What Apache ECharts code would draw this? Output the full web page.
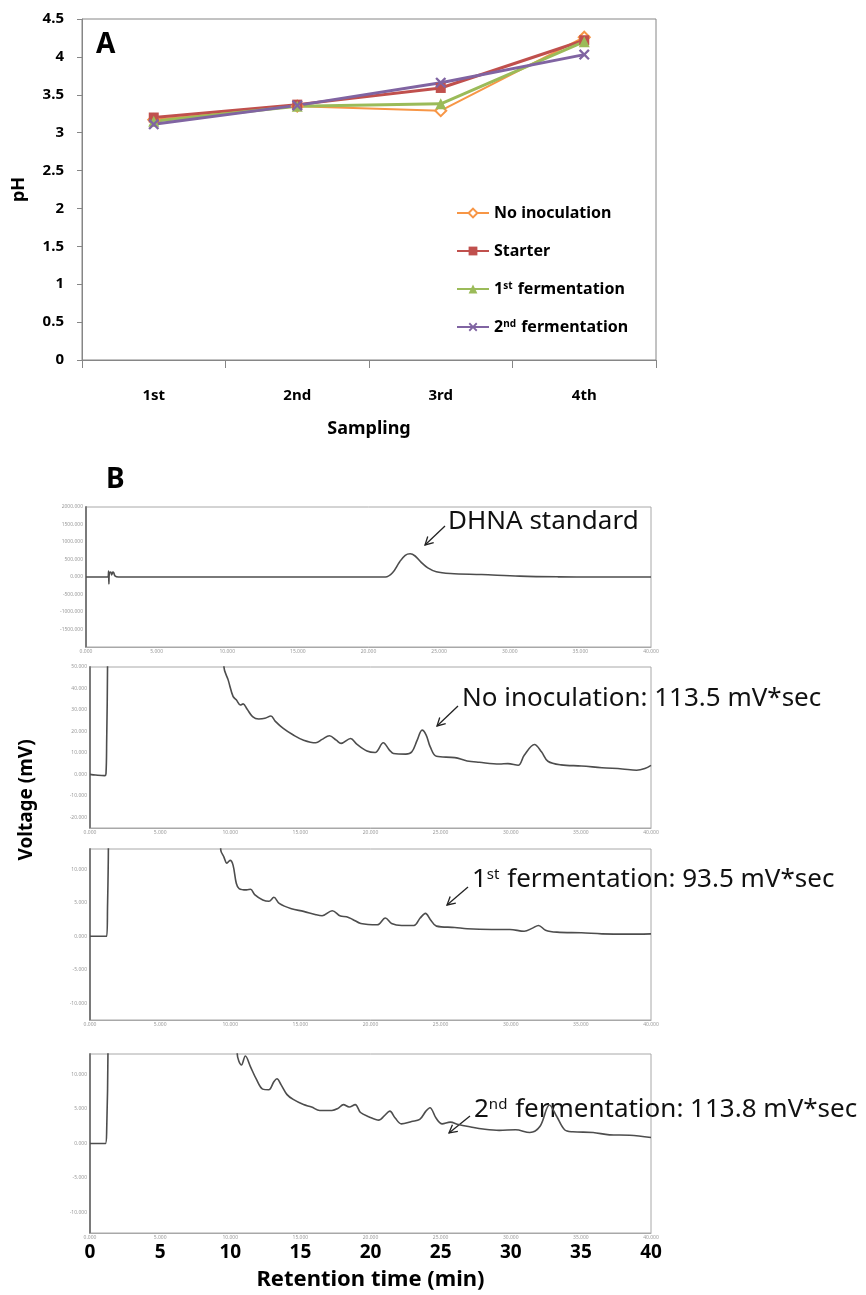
<!DOCTYPE html>
<html><head><meta charset="utf-8">
<script src="https://cdn.jsdelivr.net/npm/echarts@6/dist/echarts.min.js"></script>
<style>html,body{margin:0;padding:0;background:#fff}#c{width:866px;height:1295px}</style>
</head><body><div id="c"></div>
<script>
// ---- Panel A data ----
const samplings = ['1st', '2nd', '3rd', '4th'];
const phNoInoculation = [3.17, 3.35, 3.29, 4.26];
const phStarter = [3.20, 3.37, 3.59, 4.22];
const phFirstFerm = [3.15, 3.35, 3.38, 4.20];
const phSecondFerm = [3.11, 3.36, 3.66, 4.03];
const phTicks = [0, 0.5, 1, 1.5, 2, 2.5, 3, 3.5, 4, 4.5];

// ---- Panel B data: [retention time (min), signal] ----
const timeTicks = [0, 5, 10, 15, 20, 25, 30, 35, 40];
const dhnaStandard = [[0,0],[1.55,0],[1.6,170],[1.62,-200],[1.65,100],[1.75,140],[1.82,60],[1.9,140],[1.97,120],[2.05,30],[2.3,0],[4,0],[21.2,0],[21.7,120],[22.2,430],[22.6,620],[22.95,664],[23.3,600],[23.7,430],[24.2,260],[24.8,150],[25.8,100],[28,70],[30.7,25],[33.4,5],[36,0],[40,0]];
const noInoculationTrace = [[0,0],[0.4,-0.3],[1.05,-0.6],[1.14,0.3],[1.19,16],[1.25,50],[1.28,200],[9.35,200],[9.55,50],[9.85,44],[10.2,36.3],[10.43,34.7],[10.72,32.3],[10.92,32.8],[11.21,30.3],[11.59,26.9],[12.03,25.8],[12.47,26.1],[12.9,27.2],[13.2,24.8],[13.78,21.4],[14.5,18.3],[15.23,15.9],[16.1,14.7],[16.55,16.3],[17.07,18],[17.56,15.9],[17.9,14.4],[18.58,16.7],[19.02,14.1],[19.75,10.9],[20.33,10.2],[20.91,14.7],[21.35,11.3],[21.64,9.7],[22.52,9.4],[22.95,10.5],[23.33,15.9],[23.68,20.6],[23.97,18.3],[24.26,12.8],[24.7,8.4],[26.01,7.8],[26.89,6.25],[27.76,5.6],[29.2,4.8],[29.8,5],[30.53,4.2],[30.96,8.9],[31.69,13.9],[32.19,10.5],[32.65,6.1],[33.59,4.4],[35.04,3.9],[36.5,3.1],[37.95,2.5],[38.97,1.9],[39.56,2.7],[40,4.2]];
const firstFermTrace = [[0,0],[1.19,0],[1.25,4.4],[1.31,12.9],[1.33,40],[9.2,40],[9.32,12.9],[9.55,11.8],[9.76,10.9],[9.99,11.3],[10.2,10.6],[10.43,7.9],[10.63,7.1],[11.16,6.9],[11.45,7],[11.74,6.2],[12.32,5.4],[12.76,5.2],[13.11,5.8],[13.49,4.9],[14.36,4.1],[15.23,3.7],[16.11,3.2],[16.55,3.05],[17.27,3.8],[17.86,3],[18.29,2.9],[18.73,2.5],[19.31,1.9],[20.48,1.7],[21.06,2.7],[21.5,1.9],[22.22,1.6],[23.1,1.6],[23.54,2.7],[23.92,3.4],[24.26,2.5],[24.7,1.5],[26.01,1.3],[26.89,1.1],[28.63,1],[29.94,1],[30.96,0.74],[31.55,1.2],[31.98,1.6],[32.48,0.9],[33.29,0.6],[35.04,0.5],[36.5,0.35],[38.25,0.3],[40,0.35]];
const secondFermTrace = [[0,0],[1.1,0],[1.19,2],[1.28,13],[1.3,40],[10.45,40],[10.5,13],[10.8,11.4],[11.08,12.7],[11.43,11.2],[11.87,9.3],[12.31,7.9],[12.74,7.8],[13.12,9],[13.33,9.4],[13.62,8.55],[14.05,7.1],[14.49,6.4],[15.22,5.65],[15.8,5.3],[16.38,4.8],[17.25,4.8],[17.69,5.1],[18.07,5.65],[18.48,5.3],[18.91,5.65],[19.29,4.5],[19.87,3.9],[20.6,3.4],[20.98,4],[21.38,4.7],[21.76,3.7],[22.2,2.85],[22.93,3.2],[23.51,3.5],[23.95,4.7],[24.24,5.2],[24.67,3.7],[25.11,2.85],[25.69,3.1],[26.27,2.75],[27.15,2.4],[28.02,2.1],[29.18,1.9],[30.35,2],[31.36,1.6],[32.09,2.5],[32.76,5.6],[33.26,4],[33.84,2],[34.42,1.7],[35.87,1.6],[37.04,1.25],[38.49,1.2],[40,0.87]];
const dhnaTicks = [2000, 1500, 1000, 500, 0, -500, -1000, -1500];
const noInocTicks = [50, 40, 30, 20, 10, 0, -10, -20];
const fermTicks = [10, 5, 0, -5, -10];

const FONT = '"Noto Sans", "DejaVu Sans", sans-serif';
const chart = echarts.init(document.getElementById('c'));

const panelGrids = [
  {left: 82, top: 19, width: 574, height: 341},
  {left: 86, top: 507, width: 565, height: 140},
  {left: 90, top: 667, width: 561, height: 161},
  {left: 90, top: 849, width: 561, height: 171},
  {left: 90, top: 1054, width: 561, height: 179}
];
const grids = panelGrids.map((g, i) => Object.assign({show: true, backgroundColor: 'transparent',
  borderColor: i === 0 ? '#868686' : '#a8a8a8', borderWidth: 1}, g));

const tinyLabel = {fontSize: 5, color: '#9a9a9a', fontFamily: FONT};
function chromX(gi) {
  return {type: 'value', gridIndex: gi, min: 0, max: 40, interval: 5,
    axisLine: {show: true, onZero: false, lineStyle: {color: '#a8a8a8', width: 1}},
    axisTick: {show: false}, splitLine: {show: false},
    axisLabel: Object.assign({margin: 2, customValues: timeTicks, formatter: v => v.toFixed(3)}, tinyLabel)};
}
function chromY(gi, min, max, ticks) {
  return {type: 'value', gridIndex: gi, min: min, max: max,
    axisLine: {show: true, onZero: false, lineStyle: {color: '#7a7a7a', width: 2}},
    axisTick: {show: false}, splitLine: {show: false},
    axisLabel: Object.assign({margin: 3, showMinLabel: true, showMaxLabel: true, customValues: ticks, formatter: v => v.toFixed(3)}, tinyLabel)};
}

const xAxes = [
  {type: 'category', gridIndex: 0, data: samplings, boundaryGap: true,
   axisLine: {lineStyle: {color: '#868686', width: 1}},
   axisTick: {show: true, length: 8, inside: false, lineStyle: {color: '#868686'}},
   axisLabel: {fontSize: 15, fontWeight: 'bold', color: '#000', margin: 28, fontFamily: FONT},
   name: 'Sampling', nameLocation: 'middle', nameGap: 60,
   nameTextStyle: {fontSize: 18, fontWeight: 'bold', color: '#000', fontFamily: FONT}},
  chromX(1), chromX(2), chromX(3), chromX(4),
  {type: 'value', gridIndex: 4, min: 0, max: 40, interval: 5, position: 'bottom',
   axisLine: {show: false, onZero: false}, axisTick: {show: false}, splitLine: {show: false},
   axisLabel: {fontSize: 19, fontWeight: 'bold', color: '#000', margin: 10, fontFamily: FONT, customValues: timeTicks},
   name: 'Retention time (min)', nameLocation: 'middle', nameGap: 36,
   nameTextStyle: {fontSize: 22, fontWeight: 'bold', color: '#000', fontFamily: FONT}}
];
const yAxes = [
  {type: 'value', gridIndex: 0, min: 0, max: 4.5, interval: 0.5,
   axisLine: {show: true, lineStyle: {color: '#868686'}},
   axisTick: {show: true, length: 5, lineStyle: {color: '#868686'}},
   splitLine: {show: false},
   axisLabel: {fontSize: 15, fontWeight: 'bold', color: '#000', margin: 18, fontFamily: FONT,
     customValues: phTicks},
   name: 'pH', nameLocation: 'middle', nameGap: 54,
   nameTextStyle: {fontSize: 18, fontWeight: 'bold', color: '#000', fontFamily: FONT}},
  chromY(1, -2000, 2000, dhnaTicks),
  chromY(2, -25, 50, noInocTicks),
  chromY(3, -12.5, 13, fermTicks),
  chromY(4, -13, 13, fermTicks)
];

const crossPath = 'path://M0,1.5L1.5,0L5,3.5L8.5,0L10,1.5L6.5,5L10,8.5L8.5,10L5,6.5L1.5,10L0,8.5L3.5,5Z';
function phSeries(name, data, color, symbol, size, lw, hollow) {
  return {name: name, type: 'line', xAxisIndex: 0, yAxisIndex: 0, data: data,
    symbol: symbol, symbolSize: size, showSymbol: true,
    lineStyle: {color: color, width: lw},
    itemStyle: hollow ? {color: '#fff', borderColor: color, borderWidth: 2} : {color: color, borderWidth: 0},
    emphasis: {disabled: true}, z: 3};
}
const lineGray = '#4d4d4d';
function chromSeries(idx, data) {
  return {type: 'line', xAxisIndex: idx, yAxisIndex: idx, data: data, showSymbol: false,
    symbol: 'none', smooth: 0.35, clip: true,
    lineStyle: {color: lineGray, width: 1.6}, silent: true, z: 2};
}

function arrow(tx, ty, hx, hy) {
  const dx = tx - hx, dy = ty - hy, L = Math.hypot(dx, dy), ux = dx / L, uy = dy / L, a = 0.5, hl = 9;
  const r = (ang) => [hx + hl * (ux * Math.cos(ang) - uy * Math.sin(ang)), hy + hl * (ux * Math.sin(ang) + uy * Math.cos(ang))];
  return [
    {type: 'line', shape: {x1: tx, y1: ty, x2: hx, y2: hy}, style: {stroke: '#222', lineWidth: 1.3}},
    {type: 'polyline', shape: {points: [r(a), [hx, hy], r(-a)]}, style: {stroke: '#222', lineWidth: 1.3, fill: null}}
  ];
}
const annRich = {sup: {fontSize: 15, verticalAlign: 'top', fontFamily: FONT, fill: '#111', padding: [0, 1, 10, 0]},
  n: {fontSize: 26, fontFamily: FONT, fill: '#111'}};
function note(x, y, txt) {
  return {type: 'text', x: x, y: y, style: {text: txt, fontSize: 26, fontFamily: FONT, fill: '#111',
    verticalAlign: 'middle', align: 'left', rich: annRich}};
}

const graphics = [
  {type: 'text', x: 96, y: 45, style: {text: 'A', fontSize: 28, fontWeight: 'bold', fontFamily: FONT, fill: '#000', verticalAlign: 'middle'}},
  {type: 'text', x: 106, y: 480, style: {text: 'B', fontSize: 28, fontWeight: 'bold', fontFamily: FONT, fill: '#000', verticalAlign: 'middle'}},
  {type: 'text', x: 27, y: 800, rotation: Math.PI / 2, style: {text: 'Voltage (mV)', fontSize: 19, fontWeight: 'bold', fontFamily: FONT, fill: '#000', align: 'center', verticalAlign: 'middle'}},
  note(448, 522, '{n|DHNA standard}'),
  note(462, 699, '{n|No inoculation: 113.5 mV*sec}'),
  note(472, 880, '{n|1}{sup|st}{n| fermentation: 93.5 mV*sec}'),
  note(474, 1110, '{n|2}{sup|nd}{n| fermentation: 113.8 mV*sec}')
].concat(arrow(445, 526, 425, 545), arrow(458, 706, 437, 726), arrow(468, 887, 447, 905), arrow(470, 1116, 449, 1133));

chart.setOption({
  animation: false,
  textStyle: {fontFamily: FONT},
  grid: grids,
  xAxis: xAxes,
  yAxis: yAxes,
  legend: {orient: 'vertical', left: 451, top: 200, itemGap: 22, itemWidth: 32, itemHeight: 11,
    selectedMode: false,
    data: ['No inoculation', 'Starter', '1st fermentation', '2nd fermentation'],
    formatter: n => n === '1st fermentation' ? '1{sup|st} fermentation' : (n === '2nd fermentation' ? '2{sup|nd} fermentation' : n),
    textStyle: {fontSize: 16, fontWeight: 'bold', color: '#000', fontFamily: FONT,
      rich: {sup: {fontSize: 10, fontWeight: 'bold', color: '#000', verticalAlign: 'top', padding: [0, 1, 6, 0], fontFamily: FONT}}}},
  series: [
    phSeries('No inoculation', phNoInoculation, '#F79646', 'diamond', 11, 2, true),
    phSeries('Starter', phStarter, '#C0504D', 'rect', 10, 3, false),
    phSeries('1st fermentation', phFirstFerm, '#9BBB59', 'triangle', 11, 3, false),
    phSeries('2nd fermentation', phSecondFerm, '#8064A2', crossPath, 11, 3, false),
    chromSeries(1, dhnaStandard),
    chromSeries(2, noInoculationTrace),
    chromSeries(3, firstFermTrace),
    chromSeries(4, secondFermTrace)
  ],
  graphic: graphics
});
</script></body></html>
